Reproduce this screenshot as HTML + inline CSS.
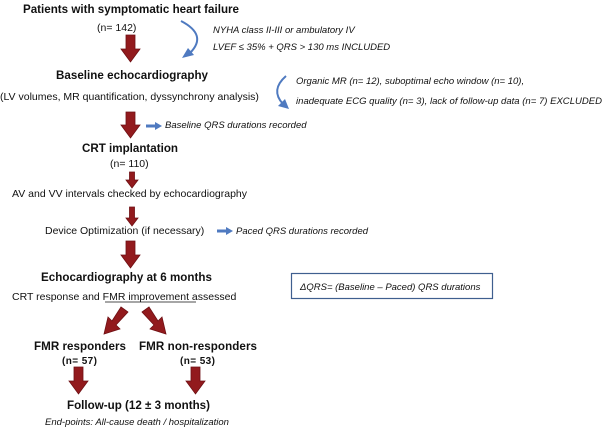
<!DOCTYPE html>
<html><head><meta charset="utf-8"><style>
html,body{margin:0;padding:0;background:#fff;}
svg{display:block;}
text{font-family:"Liberation Sans",sans-serif;fill:#111;}
.b{font-weight:bold;font-size:11.6px;}
.n{font-size:10.5px;}
.i{font-style:italic;font-size:9.5px;}
</style></head><body>
<svg width="602" height="429" viewBox="0 0 602 429" xmlns="http://www.w3.org/2000/svg">
<g fill="#921a1d" stroke="#6e1014" stroke-width="0.8">
<polygon points="126,35 135,35 135,49 140,49 130.5,62 121,49 126,49"/>
<polygon points="126,112 135,112 135,125 140,125 130.5,138 121,125 126,125"/>
<polygon points="129.5,172 134.5,172 134.5,180 138,180 132,188 126,180 129.5,180"/>
<polygon points="129.5,207 134.5,207 134.5,218 138,218 132,226 126,218 129.5,218"/>
<polygon points="126,241 135,241 135,255 140,255 130.5,268 121,255 126,255"/>
<polygon points="74,367 83,367 83,381 88,381 78.5,394 69,381 74,381"/>
<polygon points="191,367 200,367 200,381 205,381 195.5,394 186,381 191,381"/>
<polygon points="121,307 128,312 116,325 120,329 104,334 108,317 112,321"/>
<polygon points="142,312 149,307 158,321 162,317 166,334 150,329 154,325"/>
</g>
<g fill="none" stroke="#4f7ac0" stroke-width="2">
<path d="M181,21 Q208,35 190,53"/>
<path d="M286,76 Q270,90 283,104"/>
</g>
<g fill="#4f7ac0">
<polygon points="182,58 188,48 194,55"/>
<polygon points="289,109 278,106 285,99"/>
<rect x="146" y="124.5" width="10" height="3"/>
<polygon points="155,122 162,126 155,130"/>
<rect x="217" y="229.5" width="10" height="3"/>
<polygon points="226,227 233,231 226,235"/>
</g>
<text class="b" x="23" y="13" textLength="216">Patients with symptomatic heart failure</text>
<text class="n" x="97" y="31">(n= 142)</text>
<text class="i" x="213" y="33">NYHA class II-III or ambulatory IV</text>
<text class="i" x="213" y="50">LVEF ≤ 35% + QRS &gt; 130 ms INCLUDED</text>
<text class="b" x="56" y="79" textLength="152">Baseline echocardiography</text>
<text class="n" x="0" y="100">(LV volumes, MR quantification, dyssynchrony analysis)</text>
<text class="i" x="296" y="84">Organic MR (n= 12), suboptimal echo window  (n= 10),</text>
<text class="i" x="296" y="104" textLength="306">inadequate ECG quality (n= 3), lack of follow-up data (n= 7) EXCLUDED</text>
<text class="i" x="165" y="128">Baseline QRS durations recorded</text>
<text class="b" x="82" y="152" textLength="96">CRT implantation</text>
<text class="n" x="110" y="167">(n= 110)</text>
<text class="n" x="12" y="197">AV and VV intervals checked by echocardiography</text>
<text class="n" x="45" y="234">Device Optimization (if necessary)</text>
<text class="i" x="236" y="234">Paced QRS durations recorded</text>
<text class="b" x="41" y="281" textLength="171">Echocardiography at 6 months</text>
<text class="n" x="12" y="300">CRT response and FMR improvement assessed</text>
<line x1="105" y1="302" x2="196" y2="302" stroke="#111" stroke-width="0.8"/>
<rect x="291.5" y="273.5" width="201" height="25" fill="none" stroke="#3f5f8f" stroke-width="1.2"/>
<text class="i" x="300" y="290">ΔQRS= (Baseline – Paced) QRS  durations</text>
<text class="b" x="34" y="350" textLength="92">FMR responders</text>
<text class="b" x="139" y="350" textLength="118">FMR non-responders</text>
<text class="b" x="62" y="364" style="font-size:10px" textLength="35">(n= 57)</text>
<text class="b" x="180" y="364" style="font-size:10px" textLength="35">(n= 53)</text>
<text class="b" x="67" y="409" textLength="143">Follow-up (12 ± 3 months)</text>
<text class="i" x="45" y="425">End-points: All-cause death / hospitalization</text>
</svg>
</body></html>
